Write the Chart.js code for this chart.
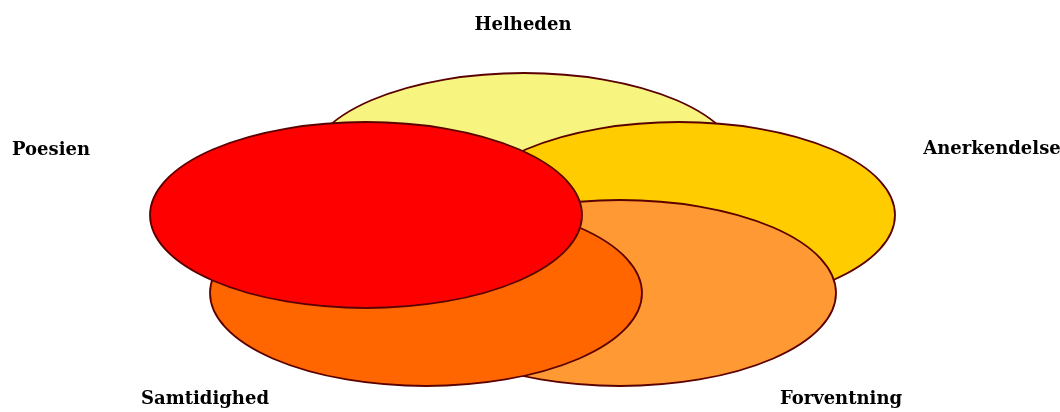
<!DOCTYPE html>
<html>
<head>
<meta charset="utf-8">
<script src="https://cdn.jsdelivr.net/npm/chart.js@4/dist/chart.umd.min.js"></script>
<style>
html,body{margin:0;padding:0;background:#fff;}
#wrap{width:1060px;height:412px;}
</style>
</head>
<body>
<div id="wrap"><canvas id="c" width="1060" height="412"></canvas></div>
<script>
// Sets (drawing order: back to front)
const setNames   = ["Helheden", "Anerkendelse", "Forventning", "Samtidighed", "Poesien"];
const setColors  = ["#F7F57F", "#FFCC00", "#FF9933", "#FF6600", "#FF0000"];
const centerX    = [524, 679, 620, 426, 366];
const centerY    = [166, 215, 293, 293, 215];
const radiusX    = [216, 216, 216, 216, 216];
const radiusY    = [93, 93, 93, 93, 93];
// Label anchor positions
const labelX     = [523, 992, 841, 205, 51];
const labelY     = [25, 149, 399, 399, 150];

const ellipsePlugin = {
  id: 'ellipses',
  beforeDatasetsDraw(chart) {
    const ctx = chart.ctx;
    const xs = chart.scales.x, ys = chart.scales.y;
    chart.data.datasets.forEach((ds, i) => {
      const p = ds.data[0];
      const cx = xs.getPixelForValue(p.x), cy = ys.getPixelForValue(p.y);
      const rx = Math.abs(xs.getPixelForValue(p.x + p.rx) - cx);
      const ry = Math.abs(ys.getPixelForValue(p.y + p.ry) - cy);
      ctx.save();
      ctx.beginPath();
      ctx.ellipse(cx, cy, rx, ry, 0, 0, Math.PI * 2);
      ctx.fillStyle = ds.backgroundColor;
      ctx.fill();
      ctx.lineWidth = 1.8;
      ctx.strokeStyle = '#5a0000';
      ctx.stroke();
      ctx.restore();
    });
  },
  afterDatasetsDraw(chart) {
    const ctx = chart.ctx;
    const xs = chart.scales.x, ys = chart.scales.y;
    ctx.save();
    ctx.fillStyle = '#000';
    ctx.font = 'bold 18px "DejaVu Serif", "Liberation Serif", serif';
    ctx.textAlign = 'center';
    ctx.textBaseline = 'middle';
    setNames.forEach((n, i) => {
      ctx.fillText(n, xs.getPixelForValue(labelX[i]), ys.getPixelForValue(labelY[i]));
    });
    ctx.restore();
  }
};

new Chart(document.getElementById('c'), {
  type: 'scatter',
  data: {
    datasets: setNames.map((n, i) => ({
      label: n,
      data: [{x: centerX[i], y: centerY[i], rx: radiusX[i], ry: radiusY[i]}],
      backgroundColor: setColors[i],
      pointRadius: 0,
      pointHoverRadius: 0
    }))
  },
  options: {
    responsive: false,
    animation: false,
    layout: {padding: 0},
    plugins: {legend: {display: false}, tooltip: {enabled: false}},
    scales: {
      x: {type: 'linear', min: 0, max: 1060, display: false},
      y: {type: 'linear', min: 0, max: 412, reverse: true, display: false}
    }
  },
  plugins: [ellipsePlugin]
});
</script>
</body>
</html>
